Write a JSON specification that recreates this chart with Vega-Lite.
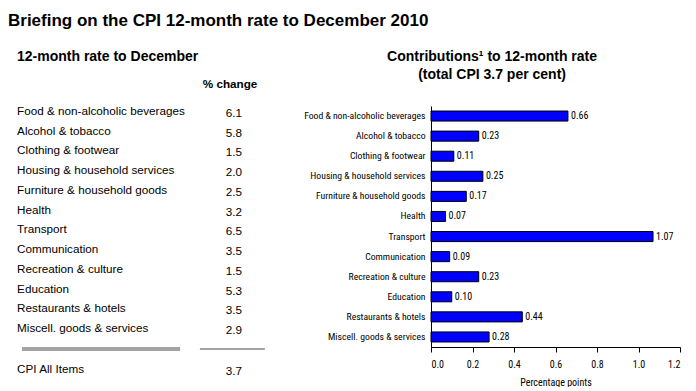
{
  "$schema": "https://vega.github.io/schema/vega-lite/v6.json",
  "padding": {"left": 8, "top": 11, "right": 5, "bottom": 0},
  "background": "white",
  "config": {"view": {"stroke": null}, "font": "Liberation Sans"},
  "title": {"text": "Briefing on the CPI 12-month rate to December 2010", "anchor": "start", "fontSize": 17, "fontWeight": "bold", "font": "Liberation Sans", "color": "black", "offset": 20},
  "spacing": 35,
  "hconcat": [
    {
      "width": 260,
      "height": 276.5,
      "title": {"text": "12-month rate to December", "anchor": "start", "dx": 9, "fontSize": 14, "fontWeight": "bold", "color": "black", "offset": 15},
      "data": {"values": [
        {"category": "Food & non-alcoholic beverages", "change": 6.1, "row": 1},
        {"category": "Alcohol & tobacco", "change": 5.8, "row": 2},
        {"category": "Clothing & footwear", "change": 1.5, "row": 3},
        {"category": "Housing & household services", "change": 2.0, "row": 4},
        {"category": "Furniture & household goods", "change": 2.5, "row": 5},
        {"category": "Health", "change": 3.2, "row": 6},
        {"category": "Transport", "change": 6.5, "row": 7},
        {"category": "Communication", "change": 3.5, "row": 8},
        {"category": "Recreation & culture", "change": 1.5, "row": 9},
        {"category": "Education", "change": 5.3, "row": 10},
        {"category": "Restaurants & hotels", "change": 3.5, "row": 11},
        {"category": "Miscell. goods & services", "change": 2.9, "row": 12},
        {"category": "CPI All Items", "change": 3.7, "row": 14.05}
      ]},
      "layer": [
        {
          "mark": {"type": "text", "align": "left", "baseline": "middle", "fontSize": 11.7, "color": "black"},
          "encoding": {
            "x": {"datum": 0.035, "type": "quantitative", "scale": {"domain": [0, 1], "nice": false}, "axis": null},
            "y": {"field": "row", "type": "quantitative", "scale": {"domain": [0.75, 14.75], "nice": false, "zero": false, "reverse": true}, "axis": null},
            "text": {"field": "category"}
          }
        },
        {
          "mark": {"type": "text", "align": "center", "baseline": "middle", "fontSize": 11.7, "color": "black", "dy": 2},
          "encoding": {
            "x": {"datum": 0.869, "type": "quantitative"},
            "y": {"field": "row", "type": "quantitative"},
            "text": {"field": "change", "format": ".1f"}
          }
        },
        {
          "data": {"values": [{"label": "% change", "row": -0.37}]},
          "mark": {"type": "text", "align": "center", "baseline": "middle", "fontSize": 11.7, "fontWeight": "bold", "color": "black"},
          "encoding": {
            "x": {"datum": 0.854, "type": "quantitative"},
            "y": {"field": "row", "type": "quantitative"},
            "text": {"field": "label"}
          }
        },
        {
          "data": {"values": [{"row": 13.05}]},
          "mark": {"type": "rule", "color": "#a3a3a3", "strokeWidth": 4},
          "encoding": {
            "x": {"datum": 0.054, "type": "quantitative"},
            "x2": {"datum": 0.662},
            "y": {"field": "row", "type": "quantitative"}
          }
        },
        {
          "data": {"values": [{"row": 13.05}]},
          "mark": {"type": "rule", "color": "#a3a3a3", "strokeWidth": 2},
          "encoding": {
            "x": {"datum": 0.738, "type": "quantitative"},
            "x2": {"datum": 0.988},
            "y": {"field": "row", "type": "quantitative"}
          }
        }
      ]
    },
    {
      "width": 249,
      "height": 241,
      "title": {"text": ["Contributions¹ to 12-month rate", "(total CPI 3.7 per cent)"], "anchor": "middle", "frame": "bounds", "fontSize": 14, "fontWeight": "bold", "color": "black", "offset": 24, "lineHeight": 18},
      "data": {"values": [
        {"category": "Food & non-alcoholic beverages", "contribution": 0.66},
        {"category": "Alcohol & tobacco", "contribution": 0.23},
        {"category": "Clothing & footwear", "contribution": 0.11},
        {"category": "Housing & household services", "contribution": 0.25},
        {"category": "Furniture & household goods", "contribution": 0.17},
        {"category": "Health", "contribution": 0.07},
        {"category": "Transport", "contribution": 1.07},
        {"category": "Communication", "contribution": 0.09},
        {"category": "Recreation & culture", "contribution": 0.23},
        {"category": "Education", "contribution": 0.10},
        {"category": "Restaurants & hotels", "contribution": 0.44},
        {"category": "Miscell. goods & services", "contribution": 0.28}
      ]},
      "encoding": {
        "y": {"field": "category", "type": "nominal", "sort": null,
              "scale": {"paddingInner": 0.5, "paddingOuter": 0.25},
              "axis": {"title": null, "ticks": false, "domainColor": "black", "labelPadding": 6, "labelFont": "Roboto Condensed", "labelFontSize": 9.7, "labelColor": "black", "labelLimit": 0}},
        "x": {"field": "contribution", "type": "quantitative",
              "scale": {"domain": [0, 1.2], "nice": false},
              "axis": {"values": [0, 0.2, 0.4, 0.6, 0.8, 1.0, 1.2], "format": ".1f", "grid": false, "tickColor": "black", "domainColor": "black", "tickSize": 5, "labelPadding": 7, "labelFont": "Roboto Condensed", "labelFontSize": 10, "labelColor": "black", "title": "Percentage points", "titleFont": "Roboto Condensed", "titleFontSize": 10, "titleFontWeight": "normal", "titleColor": "black", "titlePadding": 8}}
      },
      "layer": [
        {"mark": {"type": "bar", "color": "#0000ff", "stroke": "black", "strokeWidth": 1}},
        {"mark": {"type": "text", "align": "left", "baseline": "middle", "dx": 3, "font": "Roboto Condensed", "fontSize": 10, "color": "black"},
         "encoding": {"text": {"field": "contribution", "format": ".2f"}}}
      ]
    }
  ]
}
